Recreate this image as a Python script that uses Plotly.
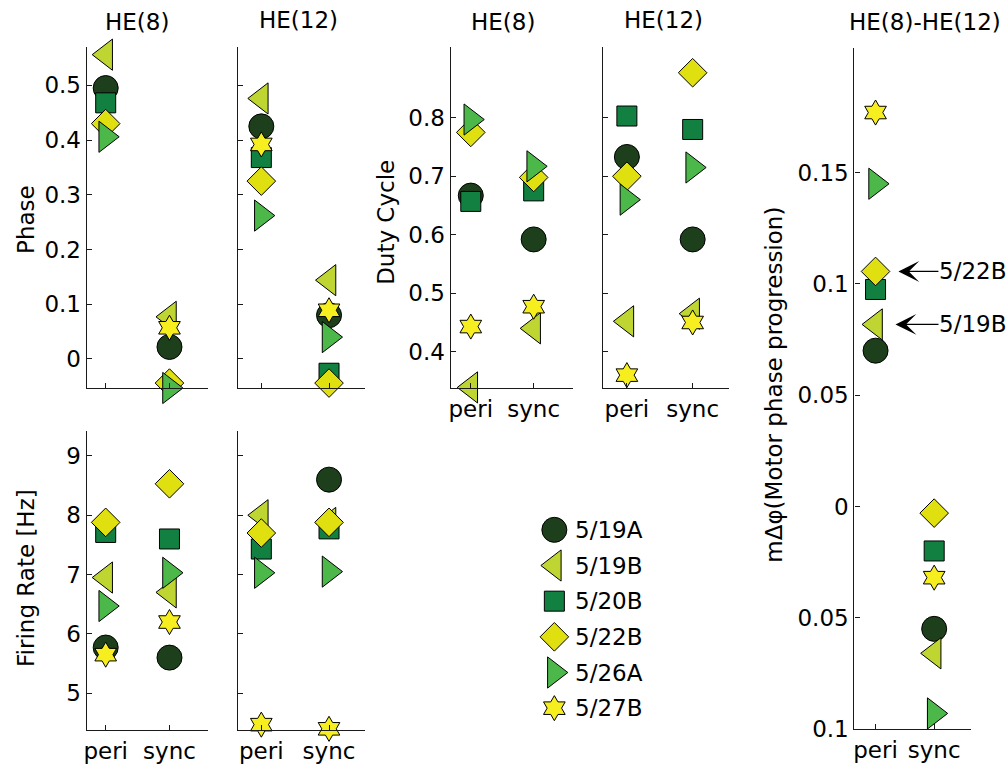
import plotly.graph_objects as go

# Target picture is 1008x768; the page is captured a little taller and squeezed
# vertically, so the figure is made slightly taller while keeping paper fractions.
W, H = 1008, 781
REF_W, REF_H = 1008, 768

conditions = ["peri", "sync"]
preps = ["5/19A", "5/19B", "5/20B", "5/22B", "5/26A", "5/27B"]
symbols = ["circle", "triangle-left", "square", "diamond", "triangle-right", "hexagram"]
colors = ["#1d3f1b", "#bfd632", "#128040", "#e0e011", "#4db84a", "#f6ee1f"]
sizes = [25, 27, 20, 22, 27, 19]

# values per prep: [peri, sync]
phase_he8 = [[0.495, 0.022], [0.556, 0.077], [0.468, -0.055], [0.43, -0.044], [0.406, -0.053], [None, 0.057]]
phase_he12 = [[0.425, 0.08], [0.476, 0.144], [0.368, -0.026], [0.325, -0.044], [0.262, 0.04], [0.392, 0.089]]
rate_he8 = [[5.77, 5.6], [6.95, 6.7], [7.71, 7.6], [7.88, 8.53], [6.47, 7.03], [5.65, 6.2]]
rate_he12 = [[9.43, 8.6], [8.0, 7.87], [7.43, 7.77], [7.7, 7.88], [7.03, 7.05], [4.47, 4.4]]
duty_he8 = [[0.667, 0.592], [0.339, 0.44], [0.657, 0.675], [0.775, 0.698], [0.797, 0.717], [0.443, 0.477]]
duty_he12 = [[0.733, 0.592], [0.452, 0.465], [0.803, 0.78], [0.7, 0.877], [0.66, 0.715], [0.36, 0.45]]
dphi_peri = [0.070, 0.0818, 0.0975, 0.1056, 0.145, 0.177]
dphi_sync = [-0.055, -0.066, -0.020, -0.003, -0.093, -0.032]

FONT = "DejaVu Sans"
FS = 23
LINE = "#1a1a1a"

fig = go.Figure()

def px_x(a, b):
    return [a / REF_W, b / REF_W]

def px_y(top, bottom):
    return [1 - bottom / REF_H, 1 - top / REF_H]

panels = [
    (phase_he8, (84, 206), (47, 388), [0.703, 2.61], [-0.053, 0.57], [0, 0.1, 0.2, 0.3, 0.4, 0.5], True, False),
    (phase_he12, (236, 363), (47, 388), [0.66, 2.53], [-0.053, 0.57], [0, 0.1, 0.2, 0.3, 0.4, 0.5], False, False),
    (rate_he8, (84, 206), (431, 730), [0.703, 2.61], [4.38, 9.42], [5, 6, 7, 8, 9], True, True),
    (rate_he12, (236, 363), (431, 730), [0.66, 2.53], [4.38, 9.42], [5, 6, 7, 8, 9], False, True),
    (duty_he8, (449, 572), (47, 388), [0.68, 2.63], [0.338, 0.921], [0.4, 0.5, 0.6, 0.7, 0.8], True, True),
    (duty_he12, (602, 728), (47, 388), [0.64, 2.55], [0.338, 0.921], [0.4, 0.5, 0.6, 0.7, 0.8], False, True),
]

axis_common = dict(showline=True, linecolor=LINE, linewidth=1.3, ticks="inside", ticklen=5,
                   tickcolor=LINE, tickwidth=1, showgrid=False, zeroline=False,
                   tickfont=dict(family=FONT, size=FS, color="black"))

layout = {}
for i, (data, xd, yd, xr, yr, yt, ylab, xlab) in enumerate(panels, start=1):
    xa = "x" if i == 1 else f"x{i}"
    ya = "y" if i == 1 else f"y{i}"
    for k in range(len(preps)):
        fig.add_trace(go.Scatter(
            x=[1, 2], y=data[k], mode="markers", xaxis=xa, yaxis=ya,
            marker=dict(symbol=symbols[k], size=sizes[k], color=colors[k],
                        line=dict(color="black", width=1)),
            cliponaxis=False, showlegend=False, name=preps[k]))
    layout[f"xaxis{'' if i == 1 else i}"] = dict(
        axis_common, domain=px_x(*xd), range=xr, anchor=ya,
        tickvals=[1, 2], ticktext=conditions, showticklabels=xlab)
    layout[f"yaxis{'' if i == 1 else i}"] = dict(
        axis_common, domain=px_y(*yd), range=yr, anchor=xa,
        tickvals=yt, showticklabels=ylab)

# Panel 7: phase progression difference
for k in range(len(preps)):
    fig.add_trace(go.Scatter(
        x=[1, 2], y=[dphi_peri[k], dphi_sync[k]], mode="markers", xaxis="x7", yaxis="y7",
        marker=dict(symbol=symbols[k], size=sizes[k], color=colors[k],
                    line=dict(color="black", width=1)),
        cliponaxis=False, showlegend=False, name=preps[k]))
layout["xaxis7"] = dict(axis_common, domain=px_x(854, 971), range=[0.64, 2.63], anchor="y7",
                        tickvals=[1, 2], ticktext=conditions)
layout["yaxis7"] = dict(axis_common, domain=px_y(48, 729), range=[-0.1, 0.206], anchor="x7",
                        tickvals=[-0.1, -0.05, 0, 0.05, 0.1, 0.15],
                        ticktext=["0.1", "0.05", "0", "0.05", "0.1", "0.15"])

# Legend (manual)
for k in range(len(preps)):
    fig.add_trace(go.Scatter(
        x=[0.1], y=[k], mode="markers", xaxis="x8", yaxis="y8",
        marker=dict(symbol=symbols[k], size=sizes[k], color=colors[k],
                    line=dict(color="black", width=1)),
        cliponaxis=False, showlegend=False, name=preps[k]))
layout["xaxis8"] = dict(domain=px_x(543, 643), range=[0, 1], visible=False, anchor="y8")
layout["yaxis8"] = dict(domain=px_y(512, 726), range=[5.5, -0.5], visible=False, anchor="x8")

annotations = []
for k, p in enumerate(preps):
    annotations.append(dict(x=0.29, y=k, xref="x8", yref="y8", text=p, showarrow=False,
                            xanchor="left", yanchor="middle",
                            font=dict(family=FONT, size=FS, color="black")))

def pa(text, xp, yp, angle=0):
    return dict(x=xp / REF_W, y=1 - yp / REF_H, xref="paper", yref="paper", text=text,
                showarrow=False, xanchor="center", yanchor="middle", textangle=angle,
                font=dict(family=FONT, size=FS, color="black"))

annotations += [
    pa("HE(8)", 134, 22), pa("HE(12)", 296, 20), pa("HE(8)", 501, 22), pa("HE(12)", 662, 20),
    pa("HE(8)-HE(12)", 925, 22),
    pa("Phase", 23, 219, -90), pa("Firing Rate [Hz]", 23, 578, -90),
    pa("Duty Cycle", 384, 222, -90), pa("mΔφ(Motor phase progression)", 773, 385, -90),
]

# arrows pointing to 5/22B and 5/19B in panel 7
for k, tipx, axp in [(3, 1.39, 74), (1, 1.34, 77)]:
    annotations.append(dict(x=tipx, y=dphi_peri[k], xref="x7", yref="y7", text=preps[k],
                            showarrow=True, arrowhead=3, arrowsize=2.9, arrowwidth=1.2,
                            arrowcolor="black", ax=axp, ay=0, borderpad=0,
                            font=dict(family=FONT, size=FS, color="black")))

fig.update_layout(**layout)
fig.update_layout(annotations=annotations, width=W, height=H,
                  margin=dict(l=0, r=0, t=0, b=0), plot_bgcolor="white", paper_bgcolor="white",
                  showlegend=False)

fig.write_html(
    "out.html",
    config={"displayModeBar": False},
    post_script=("document.documentElement.style.margin='0';"
                 "document.body.style.margin='0';"
                 "document.body.style.overflow='hidden';"),
)
